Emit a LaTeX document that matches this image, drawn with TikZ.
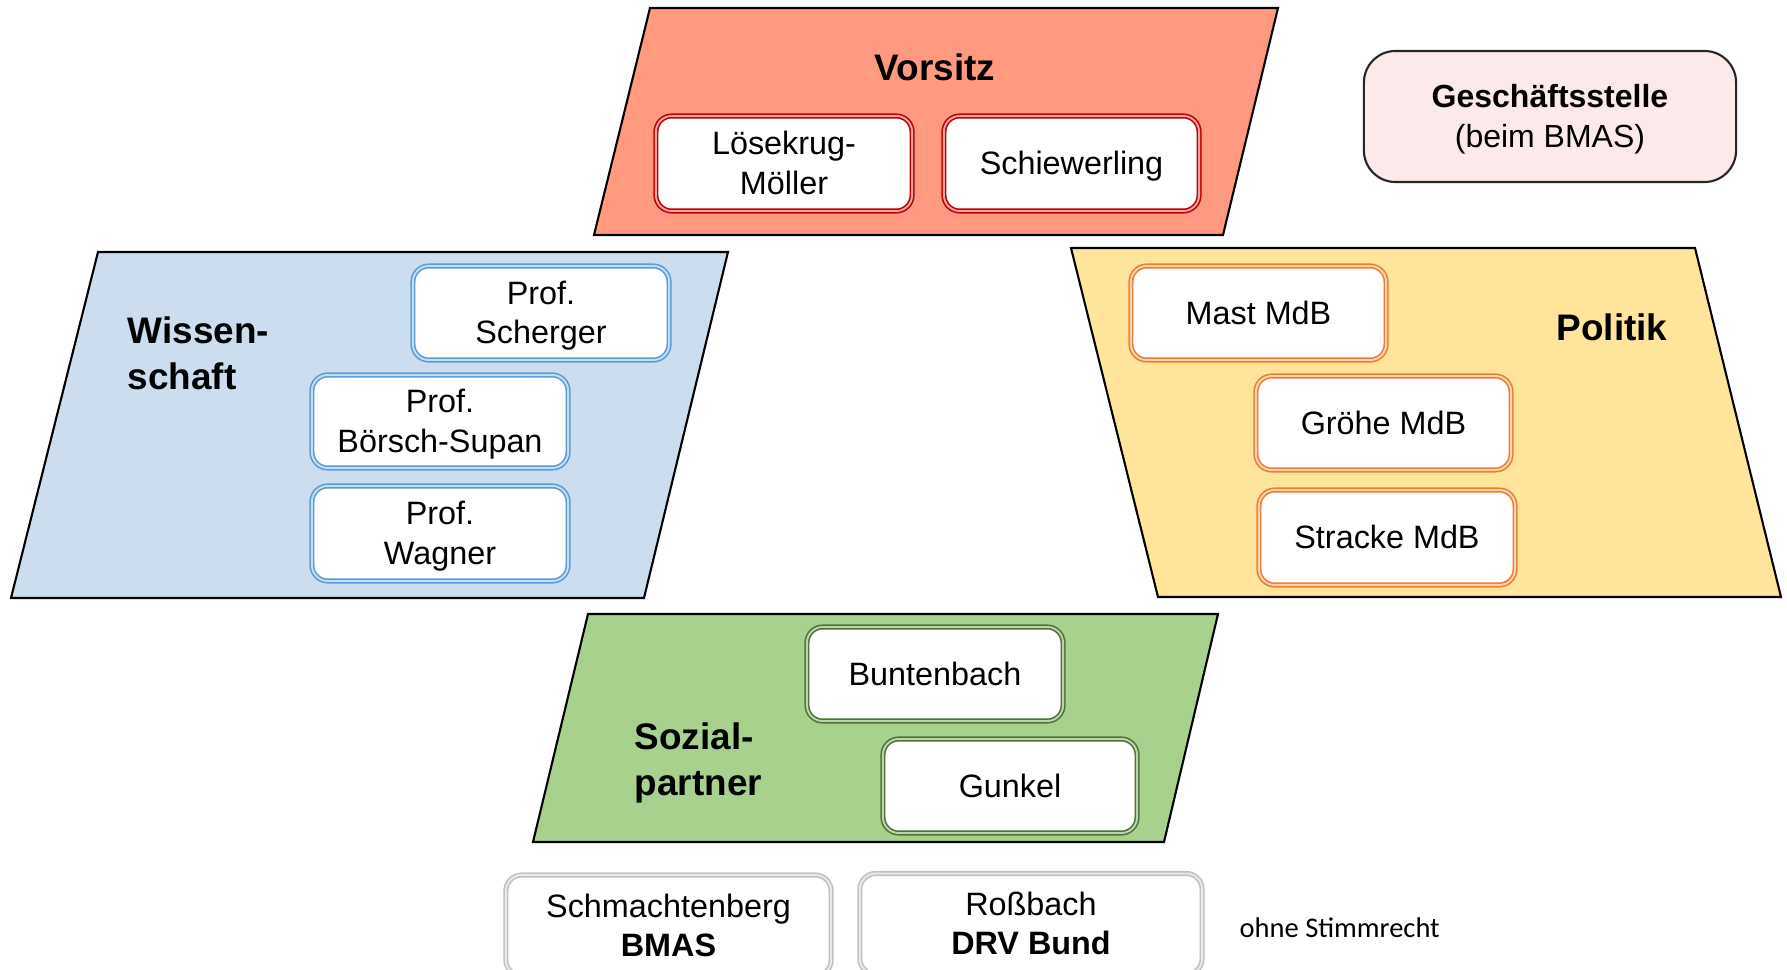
\documentclass[tikz,border=0pt]{standalone}
\usepackage{fontspec}
\setmainfont{Liberation Sans}
\newfontfamily\calibfont{Carlito}
\definecolor{vfill}{HTML}{FF9A80}
\definecolor{vline}{HTML}{C00000}
\definecolor{wfill}{HTML}{CCDDF0}
\definecolor{wline}{HTML}{5B9BD5}
\definecolor{pfill}{HTML}{FFE599}
\definecolor{pline}{HTML}{ED7D31}
\definecolor{sfill}{HTML}{A9D18E}
\definecolor{sline}{HTML}{4A7530}
\definecolor{gline}{HTML}{C0C0C0}
\definecolor{gsfill}{HTML}{FCE9E9}
\begin{document}
\begin{tikzpicture}[x=0.01cm,y=-0.01cm,
  para/.style={draw=black,line width=0.6pt,line join=miter},
  mbox/.style={draw=#1,double=#1!35!white,double distance=0.55pt,line width=0.45pt,
    fill=white,rounded corners=4.5pt,align=center,inner sep=0pt,text depth=0.4pt,
    font=\fontsize{9.2}{11.1}\selectfont},
  title/.style={font=\fontsize{10.5}{13}\selectfont\bfseries,align=left,inner sep=0pt},
]
\useasboundingbox (0,0) rectangle (1787,970);
% Vorsitz
\draw[para,fill=vfill] (650,8) -- (1278,8) -- (1223,235) -- (594,235) -- cycle;
\node[title] (tv) at (935,67) {Vorsitz};
\node[mbox=vline,minimum width=2.56cm,minimum height=0.95cm] (los) at (784,163.5) {Lösekrug-\\Möller};
\node[mbox=vline,minimum width=2.55cm,minimum height=0.95cm] (sch) at (1071.5,163.5) {Schiewerling};
% Geschaeftsstelle
\node[draw=black!85,line width=0.6pt,fill=gsfill,rounded corners=9pt,minimum width=3.72cm,minimum height=1.31cm,align=center,inner sep=0pt,text depth=0.4pt,font=\fontsize{9.1}{11.2}\selectfont] (ges) at (1550,116.5) {\textbf{Geschäftsstelle}\\(beim BMAS)};
% Wissenschaft
\draw[para,fill=wfill] (98,252) -- (728,252) -- (644,598) -- (11,598) -- cycle;
\node[title,anchor=west] (tw) at (127,353.5) {Wissen-\\schaft};
\node[mbox=wline,minimum width=2.56cm,minimum height=0.94cm] (scherger) at (541,313) {Prof.\\Scherger};
\node[mbox=wline,minimum width=2.56cm,minimum height=0.93cm] (boersch) at (440,421.5) {Prof.\\Börsch-Supan};
\node[mbox=wline,minimum width=2.56cm,minimum height=0.95cm] (wagner) at (440,533.5) {Prof.\\Wagner};
% Politik
\draw[para,fill=pfill] (1071,248) -- (1695,248) -- (1781,597) -- (1158,597) -- cycle;
\node[title] (tp) at (1612,327) {Politik};
\node[mbox=pline,minimum width=2.55cm,minimum height=0.94cm] (mast) at (1258.5,313) {Mast MdB};
\node[mbox=pline,minimum width=2.55cm,minimum height=0.94cm] (groehe) at (1383.5,423) {Gröhe MdB};
\node[mbox=pline,minimum width=2.56cm,minimum height=0.95cm] (stracke) at (1387,537.5) {Stracke MdB};
% Sozialpartner
\draw[para,fill=sfill] (588,614) -- (1218,614) -- (1164,842) -- (533,842) -- cycle;
\node[title,anchor=west] (ts) at (634,763) {Sozial-\\partner};
\node[mbox=sline,minimum width=2.56cm,minimum height=0.94cm] (bunten) at (935,674) {Buntenbach};
\node[mbox=sline,minimum width=2.54cm,minimum height=0.94cm] (gunkel) at (1010,786) {Gunkel};
% ohne Stimmrecht
\node[mbox=gline,minimum width=3.25cm,minimum height=1.01cm] (schm) at (668.5,925.5) {Schmachtenberg\\\textbf{BMAS}};
\node[mbox=gline,minimum width=3.42cm,minimum height=1.01cm] (ross) at (1031,924) {Roßbach\\\textbf{DRV Bund}};
\node[anchor=west,inner sep=0pt,font=\calibfont\fontsize{8.1}{10}\selectfont] (ohne) at (1239,928) {ohne Stimmrecht};
\end{tikzpicture}
\end{document}
